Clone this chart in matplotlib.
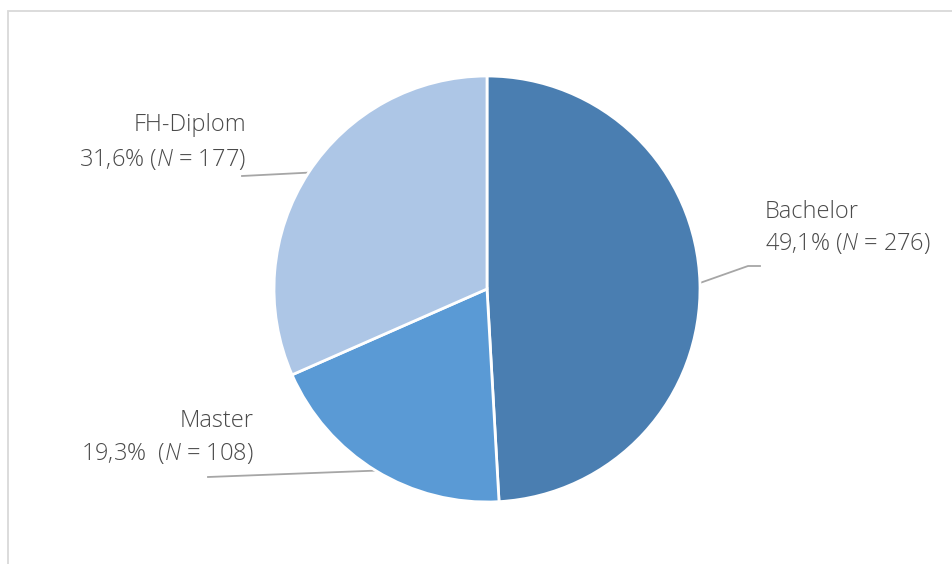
import numpy as np
import matplotlib.pyplot as plt
from matplotlib.patches import Rectangle

# data
categories = ['Bachelor', 'Master', 'FH-Diplom']
percents = [49.1, 19.3, 31.6]
counts = [276, 108, 177]
pct_labels = ['49,1%', '19,3% ', '31,6%']
colors = ['#4A7EB1', '#5A9AD5', '#ADC6E6']

plt.rcParams['font.family'] = ['Open Sans', 'DejaVu Sans']
plt.rcParams['mathtext.fontset'] = 'custom'
plt.rcParams['mathtext.it'] = 'Open Sans:italic:light'
plt.rcParams['mathtext.rm'] = 'Open Sans:light'

W, H = 952, 564
fig = plt.figure(figsize=(W / 100, H / 100), dpi=100)
ax = fig.add_axes([0, 0, 1, 1])

# grey chart frame (only left/top visible)
ax.add_patch(Rectangle((7.5, -10), W + 20, H - 10 + 10 - 0.5, fill=False,
                       edgecolor='#D9D9D9', linewidth=1.3))

cx, cy, r = 487, H - 289, 213
wedges, _ = ax.pie(percents, colors=colors, startangle=90, counterclock=False,
                   center=(cx, cy), radius=r, frame=True,
                   wedgeprops=dict(edgecolor='white', linewidth=2))
ax.set_xlim(0, W)
ax.set_ylim(0, H)
ax.set_aspect('auto')
ax.axis('off')

# label layout: (text x, line1 y, line2 y, align, leader path after edge point)
layout = {
    'Bachelor': (765, H - 212, H - 244, 'left', [(748, H - 266), (760, H - 266)]),
    'Master': (254, H - 421, H - 453, 'right', [(208, H - 477)]),
    'FH-Diplom': (246, H - 125, H - 160, 'right', [(242, H - 176)]),
}

txt_kw = dict(fontsize=17, color='#4A4A4A', fontweight='light', va='center')
for w, name, pct, n in zip(wedges, categories, pct_labels, counts):
    mid = np.deg2rad((w.theta1 + w.theta2) / 2)
    ex, ey = cx + r * np.cos(mid), cy + r * np.sin(mid)
    tx, y1, y2, ha, path = layout[name]
    xs = [ex] + [p[0] for p in path]
    ys = [ey] + [p[1] for p in path]
    ax.plot(xs, ys, color='#A6A6A6', linewidth=1.3, zorder=0.5)
    ax.text(tx, y1, name, ha=ha, **txt_kw)
    ax.text(tx, y2, f'{pct} ($\\mathit{{N}}$ = {n})', ha=ha, **txt_kw)

fig.savefig('out.png', dpi=100)
